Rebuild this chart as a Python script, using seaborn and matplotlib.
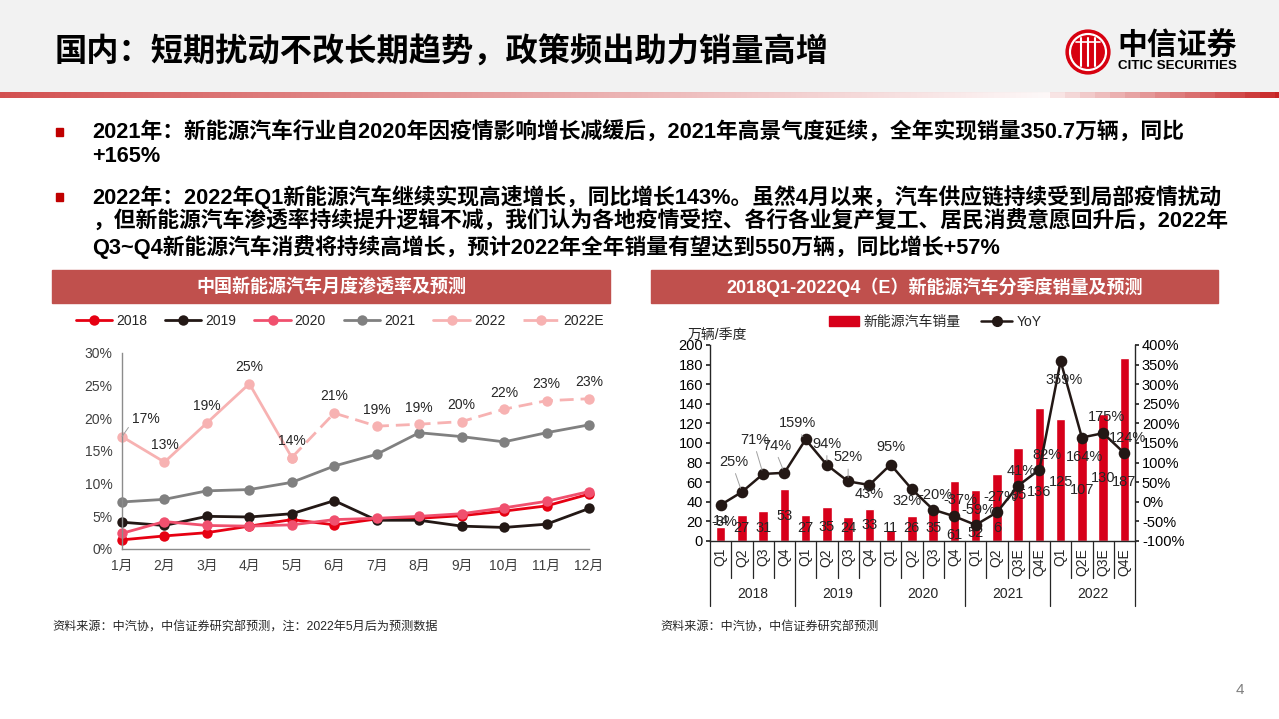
import numpy as np
import pandas as pd
import matplotlib
matplotlib.use("Agg")
import matplotlib.pyplot as plt
import matplotlib.transforms as mtransforms
from matplotlib.patches import Rectangle, Circle
from matplotlib.lines import Line2D
from matplotlib.ticker import FuncFormatter
import seaborn as sns

# ---- 数据：月度渗透率（%） ----
months = ["1月", "2月", "3月", "4月", "5月", "6月", "7月", "8月", "9月", "10月", "11月", "12月"]
pen_2018 = [1.4, 2.0, 2.5, 3.5, 4.5, 3.7, 4.6, 4.7, 5.1, 5.8, 6.6, 8.4]
pen_2019 = [4.1, 3.6, 5.0, 4.9, 5.4, 7.4, 4.4, 4.4, 3.5, 3.3, 3.8, 6.2]
pen_2020 = [2.4, 4.2, 3.6, 3.5, 3.7, 4.5, 4.7, 5.0, 5.4, 6.3, 7.3, 8.8]
pen_2021 = [7.2, 7.6, 8.9, 9.1, 10.2, 12.7, 14.5, 17.8, 17.2, 16.4, 17.8, 19.0]
pen_2022 = [17.2, 13.3, 19.3, 25.3, 14.0]
pen_2022e = [14.0, 20.8, 18.8, 19.1, 19.5, 21.4, 22.7, 23.0]
pen_2022_labels = ["17%", "13%", "19%", "25%", "14%", "21%", "19%", "19%", "20%", "22%", "23%", "23%"]

# ---- 数据：季度销量（万辆）与同比 ----
years = ["2018", "2019", "2020", "2021", "2022"]
quarters = ["Q1", "Q2", "Q3", "Q4", "Q1", "Q2", "Q3", "Q4", "Q1", "Q2", "Q3", "Q4",
            "Q1", "Q2", "Q3E", "Q4E", "Q1", "Q2E", "Q3E", "Q4E"]
sales = [14, 27, 31, 53, 27, 35, 24, 33, 11, 26, 35, 61, 52, 68, 95, 136, 125, 107, 130, 187]
sales_labels = ["14", "27", "31", "53", "27", "35", "24", "33", "11", "26", "35", "61",
                "52", "6", "95", "136", "125", "107", "130", "187"]
yoy = [-8, 25, 71, 74, 159, 94, 52, 43, 95, 32, -20, -37, -59, -27, 41, 82, 359, 164, 175, 124]

# ---- 样式 ----
W, H = 1279, 719
def fx(x):
    return x / W
def fy(y):
    return 1 - y / H

sns.set_theme(style="white")
plt.rcParams["font.family"] = ["Liberation Sans", "Noto Sans CJK SC", "DejaVu Sans"]
plt.rcParams["axes.unicode_minus"] = False

RED = "#d7001a"
HEAD = "#c0504d"

fig = plt.figure(figsize=(12.79, 7.19), dpi=100)

# 顶部标题区
fig.add_artist(Rectangle((0, fy(91)), 1, 91 / H, transform=fig.transFigure,
                         color="#f2f2f2", zorder=0))
ax_g = fig.add_axes([0, fy(98), 1, 6 / H])
xp = np.arange(W)
alpha = np.where(xp < 1050, 0.75 * (1 - xp / 1050) + 0.03,
                 0.12 + 0.88 * np.floor((xp - 1050) / 15) / ((W - 1050) / 15))
grad = np.zeros((1, W, 4))
grad[..., 0], grad[..., 1], grad[..., 2] = 0.78, 0.12, 0.12
grad[..., 3] = np.clip(alpha, 0, 1)
ax_g.imshow(grad, aspect="auto", extent=[0, 1, 0, 1])
ax_g.axis("off")

fig.text(fx(55), fy(52), "国内：短期扰动不改长期趋势，政策频出助力销量高增",
         fontsize=23.2, fontweight="bold", va="center", ha="left", color="black")

# logo
ax_logo = fig.add_axes([fx(1065), fy(75), 46 / W, 46 / H])
ax_logo.set_xlim(-1.05, 1.05)
ax_logo.set_ylim(-1.05, 1.05)
ax_logo.set_aspect("equal")
ax_logo.axis("off")
ax_logo.add_patch(Circle((0, 0), 1.0, color="#d7000f"))
ax_logo.add_patch(Circle((0, 0), 0.84, color="white"))
ax_logo.add_patch(Circle((0, 0), 0.74, color="#d7000f"))
for xx in (-0.3, 0, 0.3):
    ax_logo.plot([xx, xx], [-0.62, 0.62], color="white", lw=1.5)
ax_logo.plot([-0.55, 0.55], [0.45, 0.45], color="white", lw=1.2)
fig.text(fx(1117), fy(46), "中信证券", fontsize=21.5, fontweight="bold", color="black",
         va="center", ha="left")
fig.text(fx(1118), fy(66), "CITIC SECURITIES", fontsize=9.6, fontweight="bold",
         color="black", va="center", ha="left")

# 要点文字
bullets = [
    (132, "2021年：新能源汽车行业自2020年因疫情影响增长减缓后，2021年高景气度延续，全年实现销量350.7万辆，同比", True),
    (157, "+165%", False),
    (197, "2022年：2022年Q1新能源汽车继续实现高速增长，同比增长143%。虽然4月以来，汽车供应链持续受到局部疫情扰动", True),
    (222, "，但新能源汽车渗透率持续提升逻辑不减，我们认为各地疫情受控、各行各业复产复工、居民消费意愿回升后，2022年", False),
    (247, "Q3~Q4新能源汽车消费将持续高增长，预计2022年全年销量有望达到550万辆，同比增长+57%", False),
]
for y, txt, mark in bullets:
    if mark:
        fig.add_artist(Rectangle((fx(56), fy(y + 4)), 7 / W, 8 / H,
                                 transform=fig.transFigure, color="#c00000"))
    fig.text(fx(92), fy(y), txt, fontsize=15.7, fontweight="bold", va="center",
             ha="left", color="black")

# 图表标题条
for x0, x1, txt in [(52, 610, "中国新能源汽车月度渗透率及预测"),
                    (651, 1218, "2018Q1-2022Q4（E）新能源汽车分季度销量及预测")]:
    fig.add_artist(Rectangle((fx(x0), fy(303)), (x1 - x0) / W, 33 / H,
                             transform=fig.transFigure, color=HEAD))
    fig.text(fx((x0 + x1) / 2), fy(287), txt, fontsize=13, fontweight="bold",
             color="white", ha="center", va="center")

# ---- 左图：月度渗透率 ----
ax1 = fig.add_axes([fx(122), fy(549), (589 - 122) / W, 196 / H])
month_num = list(range(1, 13))
series = [
    ("2018", month_num, pen_2018, "#e60012", None),
    ("2019", month_num, pen_2019, "#231815", None),
    ("2020", month_num, pen_2020, "#f0506e", None),
    ("2021", month_num, pen_2021, "#808080", None),
    ("2022", month_num[:5], pen_2022, "#f7b2b2", None),
    ("2022E", month_num[4:], pen_2022e, "#f7b2b2", (5, 2.5)),
]
for name, xs, vals, col, dash in series:
    sns.lineplot(x=xs, y=vals, ax=ax1, color=col, marker="o", markersize=7.5,
                 markeredgewidth=0, linewidth=2, label=name, clip_on=False)
    if dash:
        ax1.get_lines()[-1].set_dashes(dash)

all_2022 = pen_2022 + pen_2022e[1:]
for i, (v, lab) in enumerate(zip(all_2022, pen_2022_labels)):
    if i == 0:
        ax1.annotate(lab, xy=(month_num[i], v), xytext=(17, 13), textcoords="offset points",
                     ha="center", va="center", fontsize=10, color="#262626",
                     arrowprops=dict(arrowstyle="-", color="#a0a0a0", lw=0.7,
                                     relpos=(0, 0.2), shrinkA=0, shrinkB=0))
    else:
        ax1.annotate(lab, xy=(month_num[i], v), xytext=(0, 12), textcoords="offset points",
                     ha="center", va="center", fontsize=10, color="#262626")

ax1.set_xlim(1, 12)
ax1.set_ylim(0, 30)
ax1.set_xticks(month_num)
ax1.set_xticklabels(months)
ax1.set_yticks(range(0, 31, 5))
ax1.yaxis.set_major_formatter(FuncFormatter(lambda v, p: f"{v:.0f}%"))
for s in ("top", "right"):
    ax1.spines[s].set_visible(False)
for s in ("left", "bottom"):
    ax1.spines[s].set_color("#8c8c8c")
    ax1.spines[s].set_linewidth(1)
ax1.tick_params(axis="both", direction="out", length=4, width=1, color="#8c8c8c",
                labelsize=10, labelcolor="#404040", pad=3)
ax1.set_xlabel("")
ax1.set_ylabel("")
h, l = ax1.get_legend_handles_labels()
ax1.legend(h, l, ncol=6, loc="center", bbox_to_anchor=(fx(340), fy(321)),
           bbox_transform=fig.transFigure, frameon=False, fontsize=10,
           handlelength=2.6, columnspacing=1.3, handletextpad=0.3)

# ---- 右图：季度销量与同比 ----
quarter_years = [y for y in years for _ in range(4)]
df_q = pd.DataFrame({
    "period": [f"{y}{q}" for y, q in zip(quarter_years, quarters)],
    "sales": sales,
    "yoy": yoy,
})
ax2 = fig.add_axes([fx(710), fy(541), 425 / W, 196 / H])
sns.barplot(data=df_q, x="period", y="sales", color=RED, saturation=1, width=0.45, ax=ax2)
ax3 = ax2.twinx()
sns.pointplot(data=df_q, x="period", y="yoy", color="#231815", ax=ax3, markers="o",
              markersize=7, linewidth=1.8)
ax2.set_xlim(-0.5, len(quarters) - 0.5)
ax2.set_ylim(0, 200)
ax2.set_yticks(range(0, 201, 20))
ax3.set_ylim(-100, 400)
ax3.set_yticks(range(-100, 401, 50))
ax3.yaxis.set_major_formatter(FuncFormatter(lambda v, p: f"{v:.0f}%"))
for a in (ax2, ax3):
    a.set_xlabel("")
    a.set_ylabel("")
    a.spines["top"].set_visible(False)
ax2.spines["right"].set_visible(False)
ax3.spines["left"].set_visible(False)
ax3.spines["bottom"].set_visible(False)
for a, s in ((ax2, "left"), (ax2, "bottom"), (ax3, "right")):
    a.spines[s].set_color("#262626")
    a.spines[s].set_linewidth(1)
ax2.tick_params(axis="y", direction="out", length=3, color="#262626", labelsize=10.5,
                labelcolor="black", pad=2, left=True)
ax3.tick_params(axis="y", direction="out", length=3, color="#262626", labelsize=10.5,
                labelcolor="black", pad=2, right=True)
ax2.set_xticks(range(len(quarters)))
ax2.set_xticklabels(quarters, rotation=90, fontsize=10)
ax2.tick_params(axis="x", length=0, pad=5)

trans = mtransforms.blended_transform_factory(ax2.transData, ax2.transAxes)
for i in range(len(quarters) + 1):
    depth = 0.33 if i % 4 == 0 else 0.19
    ax2.plot([i - 0.5, i - 0.5], [0, -depth], transform=trans, clip_on=False,
             color="#262626", lw=0.9)
for k, yr in enumerate(years):
    ax2.text(4 * k + 1.5, -0.27, yr, transform=trans, ha="center", va="center", fontsize=10)

bar_label_y = [20, 13, 13, 25, 13, 14, 13, 16, 13, 13, 13, 6, 8, 13, 47, 50, 60, 52, 64, 60]
for i, (lab, yy) in enumerate(zip(sales_labels, bar_label_y)):
    ax2.text(i, yy, lab, ha="center", va="center", fontsize=10.5, color="#262626", zorder=5)

yoy_off = [(4, -17), (-8, 30), (-8, 34), (-8, 27), (-8, 16), (0, 21), (0, 24), (0, -9),
           (0, 18), (-5, -12), (2, 15), (6, 16), (3, 15), (3, 15), (3, 15), (8, 15),
           (3, -19), (3, -19), (3, 16), (3, 15)]
leader = {1, 2, 3, 4, 5, 6}
for i, (v, (dx, dy)) in enumerate(zip(yoy, yoy_off)):
    kw = {}
    if i in leader:
        kw["arrowprops"] = dict(arrowstyle="-", color="#a0a0a0", lw=0.7,
                                relpos=(0.5, 0), shrinkA=1, shrinkB=3)
    ax3.annotate(f"{v}%", xy=(i, v), xytext=(dx * 0.72, dy * 0.72),
                 textcoords="offset points", ha="center", va="center",
                 fontsize=10.5, color="#262626", zorder=6, **kw)

fig.text(fx(688), fy(336), "万辆/季度", fontsize=10, ha="left", va="center")
leg_h = [Rectangle((0, 0), 1, 1, color=RED),
         Line2D([], [], color="#231815", marker="o", markersize=7, lw=1.8)]
fig.legend(leg_h, ["新能源汽车销量", "YoY"], ncol=2, loc="center",
           bbox_to_anchor=(fx(935), fy(322)), frameon=False, fontsize=10,
           handlelength=2.2, columnspacing=1.5, handletextpad=0.3)

# 来源与页码
fig.text(fx(52), fy(628), "资料来源：中汽协，中信证券研究部预测，注：2022年5月后为预测数据",
         fontsize=8.7, ha="left", va="center")
fig.text(fx(660), fy(628), "资料来源：中汽协，中信证券研究部预测",
         fontsize=8.7, ha="left", va="center")
fig.text(fx(1240), fy(690), "4", fontsize=11, color="#7f7f7f", ha="center", va="center")

fig.savefig("out.png", dpi=100)
